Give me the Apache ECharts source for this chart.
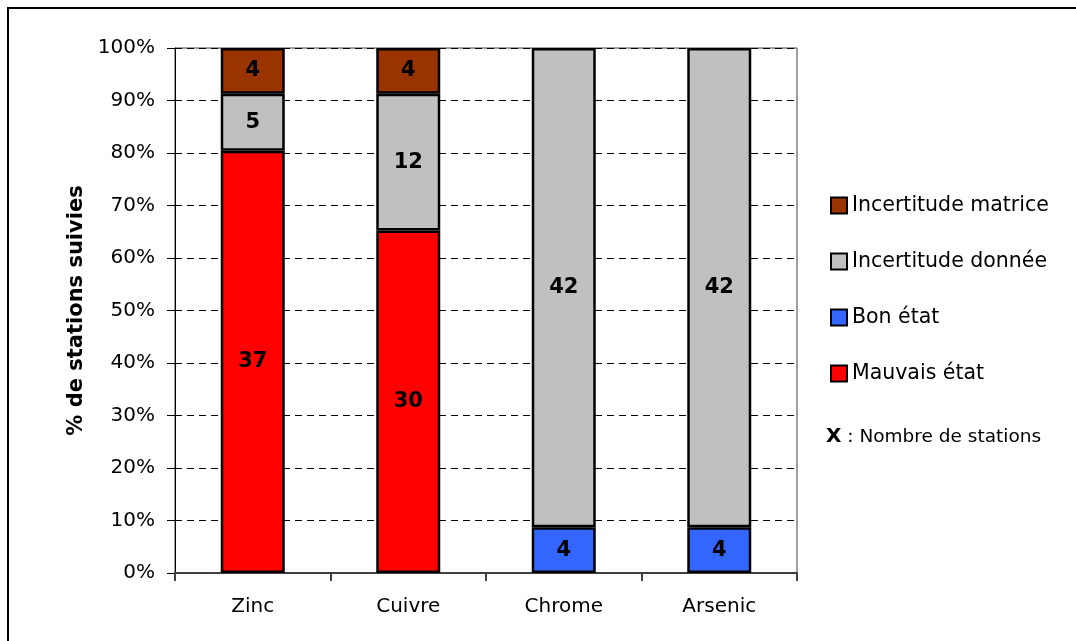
<!DOCTYPE html>
<html>
<head>
<meta charset="utf-8">
<script src="https://cdn.jsdelivr.net/npm/echarts@6/dist/echarts.min.js"></script>
<style>
  html, body { margin: 0; padding: 0; background: #fff; }
  #chart { width: 1076px; height: 641px; }
</style>
</head>
<body>
<div id="chart"></div>
<script>
// Station counts per metal and status class
const categories = ['Zinc', 'Cuivre', 'Chrome', 'Arsenic'];
const mauvaisEtat = [37, 30, 0, 0];
const bonEtat = [0, 0, 4, 4];
const incertDonnee = [5, 12, 42, 42];
const incertMatrice = [4, 4, 0, 0];
const yTicks = [0, 10, 20, 30, 40, 50, 60, 70, 80, 90, 100];

const FONT = '"DejaVu Sans", sans-serif';

const totals = categories.map((_, i) =>
  mauvaisEtat[i] + bonEtat[i] + incertDonnee[i] + incertMatrice[i]);

// Convert counts to shares of each category total; empty classes are skipped
function toShare(counts) {
  return counts.map((c, i) => c > 0 ? { value: c / totals[i] * 100, count: c } : null);
}

function makeSeries(name, counts, color) {
  return {
    name: name,
    type: 'bar',
    stack: 'total',
    barWidth: 64,
    data: toShare(counts),
    itemStyle: { color: color, borderColor: '#000', borderWidth: 2.5 },
    label: {
      show: true,
      position: 'inside',
      formatter: p => p.data ? String(p.data.count) : '',
      fontFamily: FONT,
      fontWeight: 'bold',
      fontSize: 21,
      color: '#000'
    },
    emphasis: { disabled: true }
  };
}

const chart = echarts.init(document.getElementById('chart'), null, { renderer: 'canvas' });
chart.setOption({
  animation: false,
  backgroundColor: '#fff',
  textStyle: { fontFamily: FONT },
  grid: {
    left: 175, right: 279, top: 48, bottom: 68,
    show: true, borderColor: '#404040', borderWidth: 1, backgroundColor: 'transparent'
  },
  legend: {
    orient: 'vertical',
    left: 825,
    top: 190,
    itemWidth: 16,
    itemHeight: 16,
    itemGap: 35,
    icon: 'rect',
    selectedMode: false,
    data: ['Incertitude matrice', 'Incertitude donnée', 'Bon état', 'Mauvais état'],
    textStyle: { fontFamily: FONT, fontSize: 20.5, color: '#000', lineHeight: 20 }
  },
  xAxis: {
    type: 'category',
    data: categories,
    axisLine: { lineStyle: { color: '#404040', width: 2 } },
    axisTick: { show: true, length: 8, lineStyle: { color: '#404040', width: 2 } },
    axisLabel: { fontFamily: FONT, fontSize: 20, color: '#000', margin: 24 },
    splitLine: { show: false }
  },
  yAxis: {
    type: 'value',
    min: 0,
    max: 100,
    interval: 10,
    name: '% de stations suivies',
    nameLocation: 'middle',
    nameGap: 88,
    nameRotate: 90,
    nameTextStyle: { fontFamily: FONT, fontWeight: 'bold', fontSize: 21, color: '#000' },
    axisLine: { show: true, lineStyle: { color: '#000', width: 1 } },
    axisTick: { show: true, length: 8, lineStyle: { color: '#000' } },
    axisLabel: {
      fontFamily: FONT, fontSize: 20, color: '#000', margin: 20,
      formatter: v => yTicks.includes(v) ? v + '%' : ''
    },
    splitLine: { show: true, lineStyle: { color: '#000', type: [7, 5], width: 1 } }
  },
  series: [
    makeSeries('Mauvais état', mauvaisEtat, '#FF0000'),
    makeSeries('Bon état', bonEtat, '#3366FF'),
    makeSeries('Incertitude donnée', incertDonnee, '#C0C0C0'),
    makeSeries('Incertitude matrice', incertMatrice, '#993300')
  ],
  graphic: [
    {
      type: 'rect',
      shape: { x: 8, y: 8, width: 1200, height: 800 },
      style: { fill: 'none', stroke: '#000', lineWidth: 2 },
      silent: true
    },
    {
      type: 'text',
      left: 826,
      top: 427,
      style: {
        text: '{b|X} : Nombre de stations',
        fontFamily: FONT,
        fontSize: 18.5,
        fill: '#000',
        rich: { b: { fontFamily: FONT, fontWeight: 'bold', fontSize: 20, fill: '#000' } }
      }
    }
  ]
});
</script>
</body>
</html>
